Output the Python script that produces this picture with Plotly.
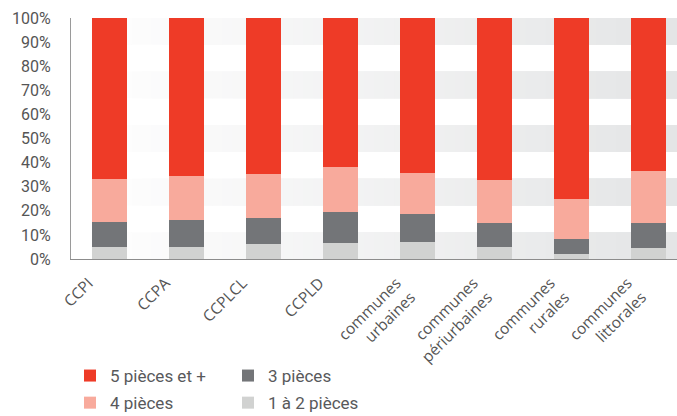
import plotly.graph_objects as go

# Répartition des logements par nombre de pièces (%)
territoires = ["CCPI", "CCPA", "CCPLCL", "CCPLD",
               "communes<br>urbaines", "communes<br>périurbaines",
               "communes<br>rurales", "communes<br>littorales"]

pieces_1_2 = [5.1, 5.1, 6.2, 6.5, 7.1, 5.0, 1.9, 4.4]
pieces_3 = [10.4, 11.2, 10.7, 12.8, 11.7, 10.1, 6.5, 10.7]
pieces_4 = [17.7, 18.3, 18.4, 18.8, 16.8, 17.6, 16.4, 21.5]
pieces_5_plus = [66.8, 65.4, 64.7, 61.9, 64.4, 67.3, 75.2, 63.4]

y_ticks = [0, 10, 20, 30, 40, 50, 60, 70, 80, 90, 100]
y_tick_labels = ["%d%%" % v for v in y_ticks]

# name, values, colour, legend column, rank within the column
series = [
    ("1 à 2 pièces", pieces_1_2, "#d1d2d1", "legend2", 2),
    ("3 pièces", pieces_3, "#737578", "legend2", 1),
    ("4 pièces", pieces_4, "#f8aa9c", "legend", 2),
    ("5 pièces et +", pieces_5_plus, "#ee3b27", "legend", 1),
]

fig = go.Figure()
for name, values, color, leg, rank in series:
    fig.add_trace(go.Bar(
        x=territoires, y=values, name=name,
        marker=dict(color=color, line=dict(width=0)),
        legend=leg, legendgroup=name, legendrank=rank,
    ))

# Alternating background bands with a soft left-to-right grey gradient
n_bands = 9
band_h = 100 / n_bands
n_steps = 60
c_start = (255, 255, 255)
c_end = (228, 229, 230)
shapes = []
for b in range(0, n_bands, 2):
    y0, y1 = b * band_h, (b + 1) * band_h
    for s in range(n_steps):
        t = s / (n_steps - 1)
        col = tuple(round(c_start[k] + (c_end[k] - c_start[k]) * t) for k in range(3))
        shapes.append(dict(
            type="rect", xref="paper", yref="y", layer="below",
            x0=s / n_steps, x1=1, y0=y0, y1=y1,
            fillcolor="rgb(%d,%d,%d)" % col, line=dict(width=0),
        ))

legend_common = dict(
    xref="container", yref="container", xanchor="left", yanchor="top",
    orientation="v", traceorder="grouped", tracegroupgap=2,
    font=dict(family="Roboto", size=17, color="#58595b"),
    bgcolor="rgba(0,0,0,0)", borderwidth=0,
)

fig.update_layout(
    width=677, height=416,
    margin=dict(l=71, r=0, t=18, b=157, autoexpand=False),
    barmode="stack", bargap=0.545,
    paper_bgcolor="white", plot_bgcolor="white",
    shapes=shapes,
    showlegend=True,
    legend=dict(x=70 / 677, y=1 - 358 / 416, **legend_common),
    legend2=dict(x=228 / 677, y=1 - 358 / 416, **legend_common),
    xaxis=dict(
        type="category", range=[-0.5, 7.37],
        showline=True, linecolor="#8c8c8c", linewidth=1,
        showgrid=False, ticks="", tickangle=-45,
        ticklabelshift=-21, ticklabelstandoff=8,
        tickfont=dict(family="Open Sans", size=15.5, color="#555555"),
        automargin=False,
    ),
    yaxis=dict(
        range=[0, 100], tickmode="array",
        tickvals=y_ticks, ticktext=y_tick_labels,
        showline=True, linecolor="#9a9a9a", linewidth=1,
        showgrid=False, zeroline=False, ticks="",
        ticklabelstandoff=16,
        tickfont=dict(family="Roboto", size=16, color="#555555"),
        automargin=False,
    ),
)

fig.write_html("out.html")
